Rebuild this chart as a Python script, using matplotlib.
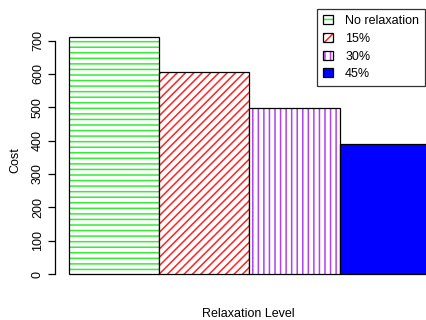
import matplotlib
matplotlib.use('Agg')
import matplotlib.pyplot as plt
from matplotlib.patches import Patch

plt.rcParams['font.family'] = ['Liberation Sans', 'DejaVu Sans']
plt.rcParams['hatch.linewidth'] = 1.1

# Cost at each relaxation level
levels = ['No relaxation', '15%', '30%', '45%']
costs = [711, 606, 498, 390]
colors = ['#33ee33', '#ff2222', '#b040f0', '#0000ff']
hatches = ['---', '////', '|||', None]

fig = plt.figure(figsize=(4.27, 3.2), dpi=100)
W, H = 427, 320
# plot region runs past the right edge, the way the device clipped it
ax = fig.add_axes([55 / W, 36.5 / H, 389 / W, 256 / H])

x = list(range(len(costs)))
for xi, c, col, h in zip(x, costs, colors, hatches):
    if h is None:
        ax.bar(xi, c, width=1, align='edge', color=col, linewidth=0)
    else:
        ax.bar(xi, c, width=1, align='edge', facecolor='white', edgecolor=col,
               hatch=h, linewidth=0)
    ax.bar(xi, c, width=1, align='edge', fill=False, edgecolor='black', linewidth=0.9)

ax.set_xlim(-0.16, 4.16)
ax.set_ylim(-28.4, 739.4)

for s in ['top', 'right', 'bottom']:
    ax.spines[s].set_visible(False)
ax.spines['left'].set_bounds(0, 700)
ax.spines['left'].set_linewidth(0.9)
ax.set_xticks([])
ax.set_yticks(range(0, 701, 100))
ax.tick_params(axis='y', length=5, width=0.9, labelsize=9, pad=3)
for lab in ax.get_yticklabels():
    lab.set_rotation(90)
    lab.set_va('center')

fig.text(15 / W, 1 - 160 / H, 'Cost', rotation=90, ha='center', va='center', fontsize=9)
fig.text(248 / W, 1 - 314 / H, 'Relaxation Level', ha='center', va='center', fontsize=9)

handles = []
for col, h in zip(colors, hatches):
    if h is None:
        inner = Patch(facecolor=col, edgecolor='none')
    else:
        inner = Patch(facecolor='white', edgecolor=col, hatch=h, linewidth=0)
    handles.append((inner, Patch(fill=False, edgecolor='black', linewidth=0.9)))

leg = fig.legend(handles, levels, loc='upper left', bbox_to_anchor=(317 / W, 1 - 9 / H),
                 fontsize=9, frameon=True, fancybox=False, edgecolor='black',
                 handlelength=0.75, handleheight=0.75, handletextpad=1.0,
                 labelspacing=0.45, borderpad=0.5, borderaxespad=0)
leg.get_frame().set_linewidth(0.9)

fig.savefig('out.png', dpi=100)
